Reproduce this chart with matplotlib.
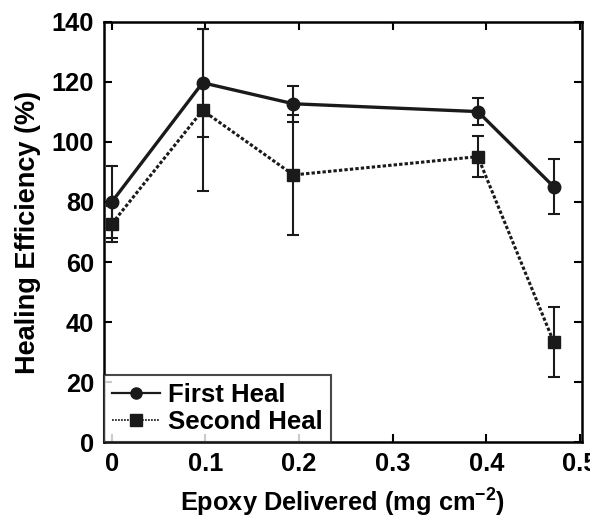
import matplotlib
matplotlib.use("Agg")
import matplotlib.pyplot as plt
from matplotlib.lines import Line2D

# values
epoxy = [0.0, 0.097, 0.194, 0.391, 0.472]

first_heal = [80.0, 119.7, 112.7, 110.1, 85.1]
first_err = [12.0, 18.0, 6.0, 4.5, 9.2]

second_heal = [72.7, 110.5, 89.0, 95.1, 33.4]
second_err = [6.0, 27.0, 20.0, 6.8, 11.7]

x_ticks = [0, 0.1, 0.2, 0.3, 0.4, 0.5]
x_tick_labels = ["0", "0.1", "0.2", "0.3", "0.4", "0.5"]
y_ticks = [0, 20, 40, 60, 80, 100, 120, 140]

FS = 18.3
INK = "#1a1a1a"
DOTTED = (0, (1.1, 0.7))

plt.rcParams["font.family"] = ["Liberation Sans", "DejaVu Sans"]
plt.rcParams["font.weight"] = "bold"
plt.rcParams["mathtext.fontset"] = "custom"
plt.rcParams["mathtext.bf"] = "Liberation Sans:bold"
plt.rcParams["mathtext.rm"] = "Liberation Sans:bold"
plt.rcParams["mathtext.default"] = "bf"

fig = plt.figure(figsize=(5.9, 5.19), dpi=100)
ax = fig.add_axes([0.176, 0.148, 0.810, 0.810])

ax.errorbar(epoxy, first_heal, yerr=first_err, color=INK, lw=2.4,
            marker="o", ms=9, elinewidth=1.5, capsize=4, capthick=1.5,
            zorder=3)
ax.errorbar(epoxy, second_heal, yerr=second_err, color=INK, lw=2.2,
            ls=DOTTED, marker="s", ms=9, elinewidth=1.5, capsize=4,
            capthick=1.5, zorder=2)

ax.set_xlim(-0.0085, 0.502)
ax.set_ylim(0, 140)
ax.set_xticks(x_ticks)
ax.set_xticklabels(x_tick_labels)
ax.set_yticks(y_ticks)
ax.tick_params(direction="in", top=True, right=True, length=6, width=1.5,
               labelsize=FS, pad=7)
for lbl in ax.get_xticklabels() + ax.get_yticklabels():
    lbl.set_fontweight("bold")
for sp in ax.spines.values():
    sp.set_linewidth(1.8)

ax.set_xlabel("Epoxy Delivered (mg cm$^{-2}$)", fontsize=FS,
              fontweight="bold", labelpad=8)
ax.set_ylabel("Healing Efficiency (%)", fontsize=19.5, fontweight="bold",
              labelpad=8)

# legend shows line + marker only, no error bars
handles = [
    Line2D([], [], color=INK, lw=1.6, marker="o", ms=8),
    Line2D([], [], color=INK, lw=1.2, ls=DOTTED, marker="s", ms=8),
]
leg = ax.legend(handles, ["First Heal", "Second Heal"], loc="lower left",
                fontsize=18.5, fancybox=False, frameon=True, borderaxespad=0,
                handlelength=1.9, handletextpad=0.3, borderpad=0.3,
                labelspacing=0.15)
leg.get_frame().set_edgecolor(INK)
leg.get_frame().set_linewidth(1.5)
for t in leg.get_texts():
    t.set_fontweight("bold")

fig.savefig("out.png", dpi=100)
